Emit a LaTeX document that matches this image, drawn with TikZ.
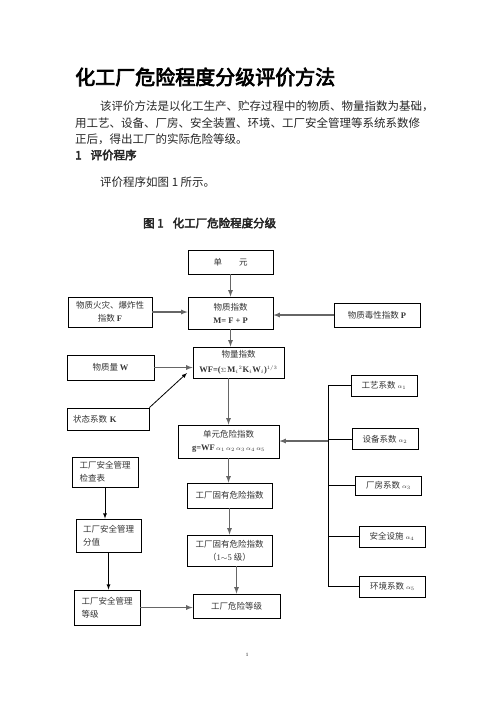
\documentclass[tikz,border=0pt]{standalone}
\usepackage{fontspec}
\setmainfont{Liberation Serif}
\newfontfamily\zh{Noto Sans CJK SC}
\newfontfamily\zhbf[FakeBold=3.5]{Noto Sans CJK SC}
\usepackage{tikz}
\usetikzlibrary{arrows}
\usetikzlibrary{calc}

\begin{document}
\begin{tikzpicture}[x=1pt,y=-1pt,
  box/.style={draw, line width=0.8pt, inner sep=2pt, align=center, text=black!80, font=\fontsize{8.5}{13}\selectfont\zh},
  lbox/.style={box, align=left},
  abox/.style={box, minimum width=66pt, minimum height=21pt},
  garrow/.style={-latex, line width=1.2pt, draw=black!60},
  barrow/.style={-latex, line width=0.8pt},
  txt/.style={anchor=west, inner sep=0pt, text=black!85, font=\fontsize{11.5}{14}\selectfont\zh}]
\useasboundingbox (0,0) rectangle (496,702);
% titre et texte
\node[anchor=west, inner sep=0pt, font=\fontsize{20}{24}\selectfont\zhbf] (title) at (75,77) {化工厂危险程度分级评价方法};
\node[txt] (l1) at (100,106) {该评价方法是以化工生产、贮存过程中的物质、物量指数为基础，};
\node[txt] (l2) at (75,123) {用工艺、设备、厂房、安全装置、环境、工厂安全管理等系统系数修};
\node[txt] (l3) at (75,139) {正后，得出工厂的实际危险等级。};
\node[txt, font=\fontsize{11.5}{14}\selectfont\zhbf] (sec) at (75,155) {1\hspace{9pt}评价程序};
\node[txt] (l5) at (100,182) {评价程序如图 1 所示。};
\node[txt, font=\fontsize{11.5}{14}\selectfont\zhbf] (cap) at (143,223) {图 1\hspace{9pt}化工厂危险程度分级};
% boites
\node[box, minimum width=85pt, minimum height=24pt] (unit) at (230.5,262) {单\hspace{17pt}元};
\node[box, minimum width=85pt, minimum height=32pt] (mat) at (230.5,313) {物质指数\\{\rmfamily\bfseries M= F + P}};
\node[box, minimum width=84pt, minimum height=30pt] (fire) at (110,312) {物质火灾、爆炸性\\指数 {\rmfamily\bfseries F}};
\node[box, minimum width=86pt, minimum height=24pt] (tox) at (377,315) {物质毒性指数 {\rmfamily\bfseries P}};
\node[box, minimum width=91pt, minimum height=31pt, font=\fontsize{8.5}{15}\selectfont\zh] (qty) at (238.5,362.5) {物量指数\\{\rmfamily\bfseries WF=(}$\scriptstyle\Sigma$\,{\rmfamily\bfseries M$_i{}^{\scriptscriptstyle 2}$K$_i$W$_i$)$^{\scriptscriptstyle 1/3}$}};
\node[box, minimum width=87pt, minimum height=25pt] (W) at (110.5,367.5) {物质量 {\rmfamily\bfseries W}};
\node[lbox, text width=70pt, inner xsep=6pt, minimum height=22pt] (K) at (108,419) {状态系数 {\rmfamily\bfseries K}};
\node[box, minimum width=101pt, minimum height=33pt] (risk) at (228.5,441.5) {单元危险指数\\{\rmfamily\bfseries g=WF}\,$\scriptstyle\alpha_1\,\alpha_2\,\alpha_3\,\alpha_4\,\alpha_5$};
\node[lbox, minimum width=66pt, minimum height=30pt] (check) at (105,472) {工厂安全管理\\检查表};
\node[box, minimum width=85pt, minimum height=25pt] (inh) at (229.5,495.5) {工厂固有危险指数};
\node[lbox, minimum width=65pt, minimum height=33pt] (score) at (108.5,535.5) {工厂安全管理\\分值};
\node[box, minimum width=85pt, minimum height=31pt] (grade) at (229.5,550.5) {工厂固有危险指数\\（{\rmfamily 1$\sim$5} 级）};
\node[lbox, minimum width=66pt, minimum height=35pt] (mgr) at (107,607.5) {工厂安全管理\\等级};
\node[box, minimum width=87pt, minimum height=24pt] (final) at (236.5,606) {工厂危险等级};
\node[abox] (a1) at (384,385.5) {工艺系数 $\scriptstyle\alpha_1$};
\node[abox] (a2) at (385,439) {设备系数 $\scriptstyle\alpha_2$};
\node[abox, minimum height=19pt] (a3) at (388.5,485.5) {厂房系数 $\scriptstyle\alpha_3$};
\node[abox] (a4) at (392,536.5) {安全设施 $\scriptstyle\alpha_4$};
\node[abox] (a5) at (392.5,586.5) {环境系数 $\scriptstyle\alpha_5$};
\node[font=\fontsize{5}{6}\selectfont, inner sep=0pt] (pg) at (247,655) {1};
% fleches
\coordinate (bus) at (328,441);
\coordinate (kend) at (187,373);
\draw[garrow] (unit) -- (mat);
\draw[garrow] (fire.east) -- (fire.east -| mat.west);
\draw[garrow] (tox.west) -- (tox.west -| mat.east);
\draw[garrow] (mat.south) -- (mat.south |- qty.north);
\draw[garrow] (W.east) -- (W.east -| qty.west);
\draw[barrow] (K.north east) -- (kend);
\draw[garrow] (risk.north |- qty.south) -- (risk.north);
\draw[garrow] (risk.south) -- (risk.south |- inh.north);
\draw[garrow] (inh) -- (grade);
\draw[garrow] (final.north |- grade.south) -- (final.north);
\draw[barrow] (check.south) -- (check.south |- score.north);
\draw[barrow] (score.south) -- (score.south |- mgr.north);
\draw[garrow] (mgr.east) -- (mgr.east -| final.west);
\draw[line width=0.8pt] (bus |- a1.west) -- (bus |- a5.west);
\foreach \k in {1,...,5}
  \draw[line width=0.8pt] (bus |- a\k.west) -- (a\k.west);
\draw[garrow] (bus) -- (bus -| risk.east);
\end{tikzpicture}
\end{document}
